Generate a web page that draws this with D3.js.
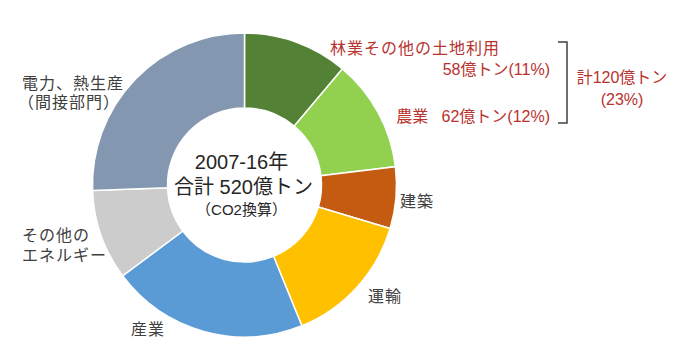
<!DOCTYPE html>
<html>
<head>
<meta charset="utf-8">
<script src="https://cdn.jsdelivr.net/npm/d3@7/dist/d3.min.js"></script>
<style>
  body { margin: 0; background: #fff; }
  svg text { font-family: "Liberation Sans", "Noto Sans CJK JP", sans-serif; white-space: pre; }
</style>
</head>
<body>
<svg id="chart"></svg>
<script>
// 部門別排出量 (億トン, CO2換算)
const categories = ['林業その他の土地利用', '農業', '建築', '運輸', '産業', 'その他のエネルギー', '電力、熱生産']
const values = [58, 62, 34, 74, 109, 50, 133]
const colors = ['#538135', '#92d050', '#c55a11', '#ffc000', '#5b9bd5', '#cccccc', '#8497b0']
const centerLines = ['2007-16年', '合計 520億トン', '（CO2換算）']
const landLines = ['58億トン(11%)', '農業   62億トン(12%)']
const landTotal = ['計120億トン', '(23%)']

const w = 683, h = 364
const cx = 244.5, cy = 185
const outerR = 152, innerR = 77

const svg = d3.select('#chart').attr('width', w).attr('height', h)

const pie = d3.pie().sort(null).value(d => d)
const arc = d3.arc().innerRadius(innerR).outerRadius(outerR)

const g = svg.append('g').attr('transform', `translate(${cx},${cy})`)

g.selectAll('path')
  .data(pie(values))
  .join('path')
  .attr('d', arc)
  .attr('fill', (d, i) => colors[i])
  .attr('stroke', '#fff')
  .attr('stroke-width', 1.5)

// multi-line text as one <text> with tspans
function block(x, y, lines, opts) {
  const t = svg.append('text')
    .attr('fill', opts.color)
    .attr('font-size', opts.size || 16)
    .attr('text-anchor', opts.anchor || 'start')
    .attr('letter-spacing', opts.ls == null ? 1 : opts.ls)
  lines.forEach((str, i) => {
    t.append('tspan')
      .attr('x', x + (opts.dx ? opts.dx[i] : 0))
      .attr('y', y + (opts.dy ? opts.dy[i] : i * (opts.lh || 20)))
      .attr('font-size', opts.sizes ? opts.sizes[i] : null)
      .text(str)
  })
  return t
}

const dark = '#404040', red = '#b8322e'

// center text
block(cx, cy - 16, centerLines, {color: '#262626', anchor: 'middle', size: 20, ls: 0,
  dx: [-3, -1, -3], dy: [0, 25, 46], sizes: [20, 20, 15]})

// labels around the ring
block(22, 89, ['電力、熱生産', '（間接部門）'], {color: dark, dx: [0, -4], lh: 19})
block(22, 241, ['その他の', 'エネルギー'], {color: dark})
block(131, 335, [categories[4]], {color: dark})
block(368, 302, [categories[3]], {color: dark})
block(400, 207, [categories[2]], {color: dark})

block(330, 54, [categories[0]], {color: red})
block(550, 75, landLines, {color: red, anchor: 'end', ls: 0, dy: [0, 47]})
block(622, 83, landTotal, {color: red, anchor: 'middle', ls: 0, dy: [0, 22]})

// bracket
svg.append('path')
  .attr('d', 'M558,42 H567 V123 H558')
  .attr('fill', 'none')
  .attr('stroke', '#404040')
  .attr('stroke-width', 1.5)
</script>
</body>
</html>
